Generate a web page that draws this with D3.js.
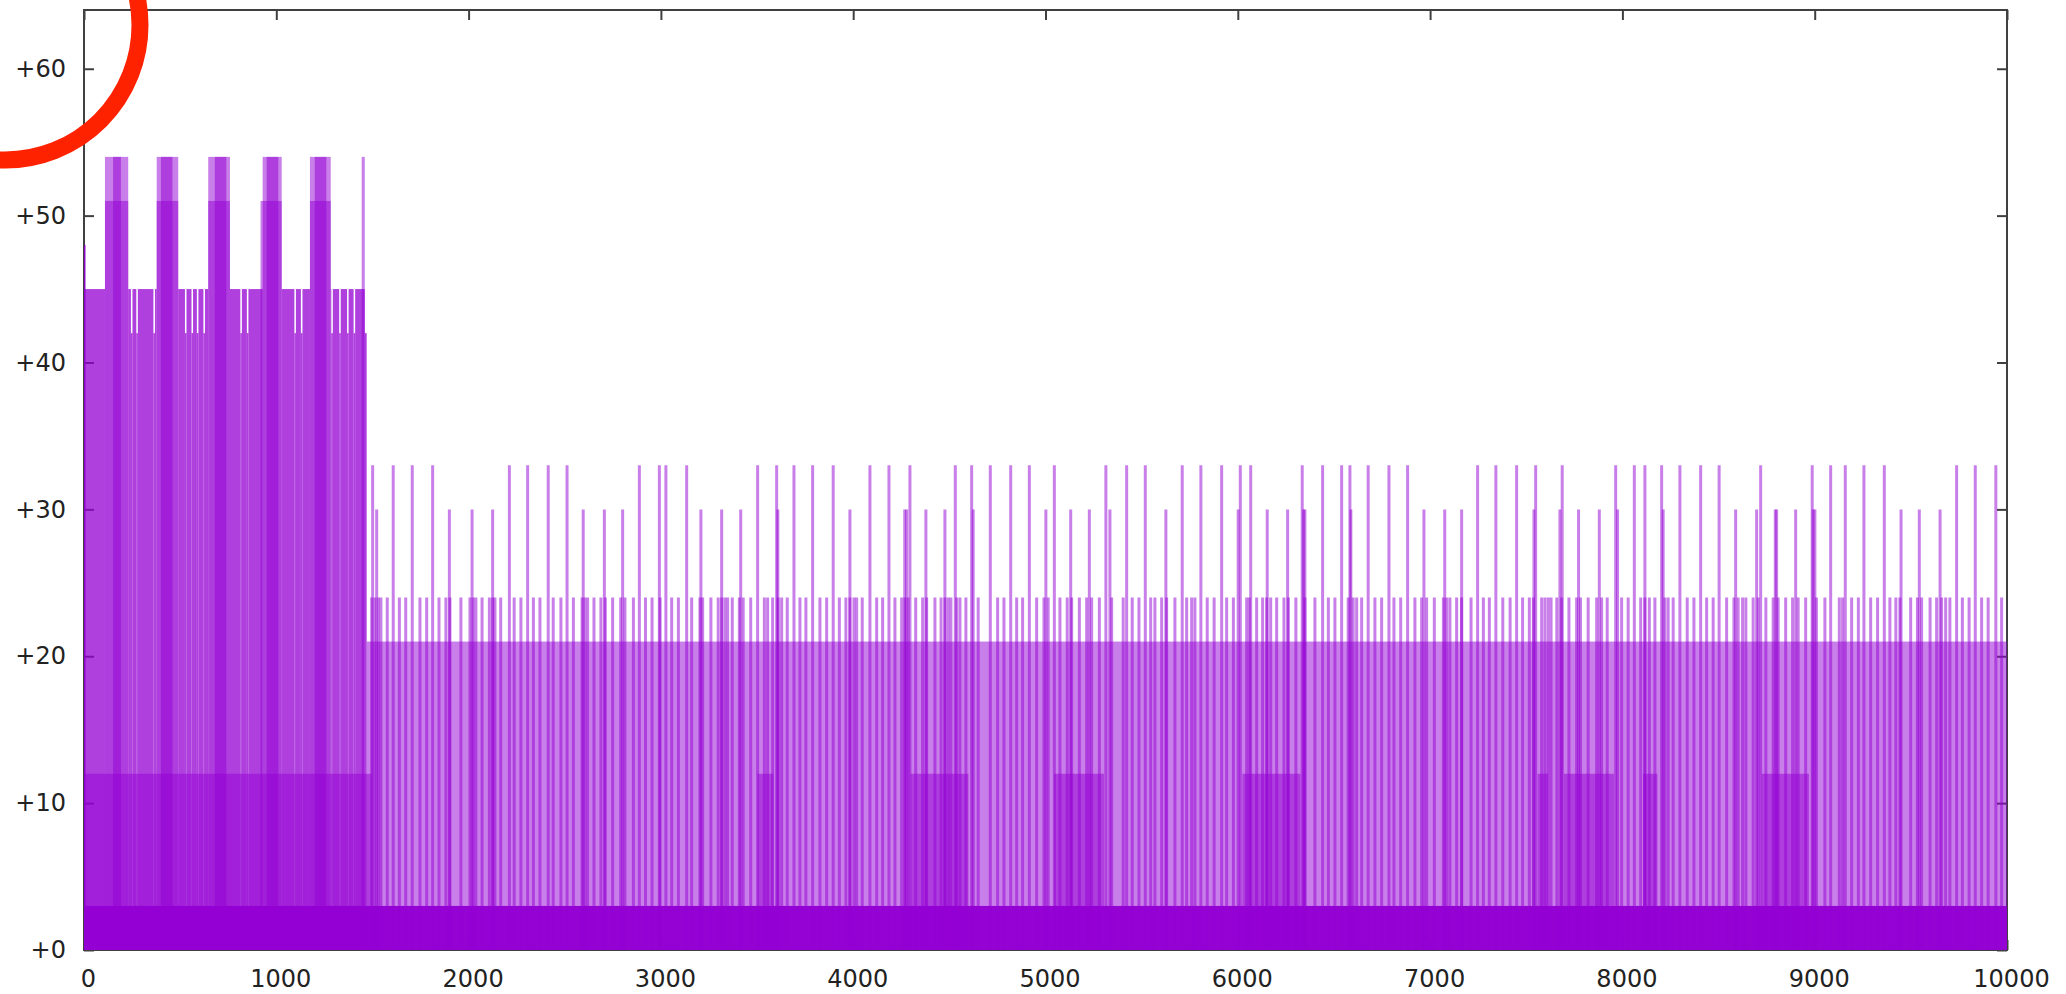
<!DOCTYPE html>
<html>
<head>
<meta charset="utf-8">
<script src="https://cdn.jsdelivr.net/npm/d3@7"></script>
<style>
  body { margin: 0; background: #fff; }
  text { font-family: "DejaVu Sans", sans-serif; }
</style>
</head>
<body>
<svg id="chart"></svg>
<script>
const W = 2066, H = 994;
const margin = { top: 10, right: 59, bottom: 44, left: 84 },
      width = W - margin.left - margin.right,
      height = H - margin.top - margin.bottom;

const xTicks = [0, 1000, 2000, 3000, 4000, 5000, 6000, 7000, 8000, 9000, 10000];
const yTicks = [0, 10, 20, 30, 40, 50, 60];

// runs of neighbouring samples sharing one value: [xStart, xEnd, value, samples stacked]
const baseRuns = [[0, 10000, 3, 6]];
const earlyRuns = [
  [0, 1496, 12, 1],
  // +45 level between the high blocks (two samples deep)
  [0, 109, 45, 2], [230, 244, 45, 2], [252, 272, 45, 2], [280, 361, 45, 2], [369, 378, 45, 2],
  [490, 525, 45, 2], [533, 559, 45, 2], [567, 587, 45, 2], [595, 621, 45, 2], [629, 646, 45, 2],
  [759, 813, 45, 2], [821, 847, 45, 2], [855, 929, 45, 2],
  [1028, 1094, 45, 2], [1102, 1128, 45, 2], [1136, 1175, 45, 2],
  [1283, 1286, 45, 2], [1294, 1327, 45, 2], [1335, 1368, 45, 2], [1376, 1402, 45, 2], [1410, 1460, 45, 2],
  // +42 where the +45 level drops out
  [244, 252, 42, 2], [272, 280, 42, 2], [361, 369, 42, 2], [525, 533, 42, 2], [559, 567, 42, 2],
  [587, 595, 42, 2], [621, 629, 42, 2], [813, 821, 42, 2], [847, 855, 42, 2], [1094, 1102, 42, 2],
  [1128, 1136, 42, 2], [1286, 1294, 42, 2], [1327, 1335, 42, 2], [1368, 1376, 42, 2], [1402, 1410, 42, 2],
  [1460, 1470, 42, 2],
  // high blocks
  [109, 230, 54, 1], [378, 490, 54, 1], [646, 759, 54, 1], [929, 1028, 54, 1], [1175, 1283, 54, 1],
  [109, 230, 51, 1], [378, 490, 51, 1], [646, 759, 51, 1], [918, 1028, 51, 1], [1175, 1283, 51, 1],
  [151, 192, 54, 1], [400, 460, 54, 1], [680, 740, 54, 1], [950, 1010, 54, 1], [1200, 1260, 54, 1],
  [1444, 1460, 54, 1],
  [0, 8, 48, 3]
];
const lateRuns = [
  [1470, 10000, 21, 1],
  [3502, 3585, 12, 1], [4298, 4599, 12, 1], [5044, 5304, 12, 1], [6024, 6326, 12, 1],
  [7559, 7614, 12, 1], [7696, 7956, 12, 1], [8107, 8182, 12, 1], [8724, 8970, 12, 1]
];

// single impulses after x = 1470
const spikes33 = [1501, 1608, 1707, 1813, 2212, 2307, 2414, 2512, 2888, 2992, 3026, 3134, 3503, 3602,
  3692, 3789, 3896, 4087, 4186, 4295, 4531, 4616, 4713, 4819, 4916, 5046, 5314, 5422, 5519, 5711,
  5808, 5916, 6013, 6067, 6335, 6441, 6540, 6583, 6678, 6786, 6883, 7247, 7342, 7450, 7549, 7687,
  7965, 8062, 8117, 8204, 8299, 8407, 8503, 8719, 8987, 9083, 9159, 9256, 9362, 9738, 9835, 9942];
const spikes30 = [1522, 1900, 2018, 2125, 2596, 2706, 2801, 3208, 3316, 3415, 3608, 3983, 4268, 4278,
  4378, 4477, 4624, 5002, 5131, 5228, 5335, 5626, 6002, 6153, 6259, 6342, 6349, 6588, 6968, 7076,
  7164, 7540, 7675, 7772, 7880, 7975, 8212, 8589, 8698, 8795, 8802, 8901, 8992, 9001, 9449, 9544, 9652];
const spikes24 = [1496, 1513, 1531, 1544, 1577, 1640, 1673, 1747, 1782, 1846, 1882, 1903, 1960, 2007,
  2024, 2038, 2070, 2108, 2125, 2137, 2167, 2237, 2272, 2337, 2371, 2440, 2480, 2545, 2590, 2605,
  2619, 2652, 2688, 2711, 2749, 2791, 2813, 2857, 2920, 2954, 2996, 3056, 3091, 3160, 3203, 3217,
  3260, 3298, 3316, 3333, 3347, 3371, 3408, 3428, 3467, 3538, 3555, 3581, 3610,
  3628, 3657, 3723, 3754, 3827, 3862, 3928, 3962, 3983, 4004, 4018, 4047, 4122, 4153, 4217, 4252,
  4269, 4286, 4325, 4361, 4382, 4425, 4457, 4477, 4494, 4508, 4538, 4555, 4586, 4650, 4751, 4784,
  4850, 4881, 4954, 4992, 5014, 5075, 5113, 5136, 5176, 5214, 5240, 5280, 5344, 5404, 5451, 5486,
  5547, 5569, 5604, 5630, 5673, 5734,
  5760, 5777, 5841, 5877, 5942, 5977, 6046, 6060, 6098, 6129, 6150, 6171, 6202, 6240, 6263, 6302,
  6349, 6401, 6471, 6505, 6574, 6600, 6618, 6644, 6713, 6748, 6812, 6847, 6921, 6956, 6982, 7022,
  7069, 7086, 7103, 7138, 7164, 7213, 7277, 7308, 7378, 7416, 7481, 7516, 7537, 7580, 7597, 7614,
  7629, 7659, 7684, 7722, 7762, 7782, 7822, 7866,
  7892, 7921, 7996, 8030, 8095, 8117, 8140, 8169, 8221, 8238, 8264, 8337, 8372, 8438, 8472, 8542,
  8580, 8602, 8625, 8642, 8680, 8706, 8746, 8784, 8810, 8849, 8885, 8914, 8953, 9009, 9053, 9128,
  9145, 9192, 9227, 9291, 9327, 9391, 9422, 9443, 9499, 9534, 9556, 9600, 9634, 9660, 9681, 9703,
  9768, 9803, 9868, 9902, 9972];

const violet = "#9400d3";

const svg = d3.select("#chart")
  .attr("width", W)
  .attr("height", H)
  .append("g")
  .attr("transform", `translate(${margin.left},${margin.top})`);

const x = d3.scaleLinear().domain([0, 10000]).range([0, width]);
const y = d3.scaleLinear().domain([0, 64]).range([height, 0]);

// frame and inward ticks first, the marks are drawn over them
const axisStyle = g => {
  g.select(".domain").remove();
  g.selectAll(".tick line").attr("stroke", "#404040").attr("stroke-width", 2);
  g.selectAll("text").attr("fill", "#222").style("font-size", "24px");
};

svg.append("g")
  .attr("transform", `translate(0,${height})`)
  .call(d3.axisBottom(x).tickValues(xTicks).tickSize(-10).tickPadding(20).tickFormat(d3.format("d")))
  .call(axisStyle)
  .selectAll("text").attr("dx", 4);

svg.append("g")
  .call(d3.axisTop(x).tickValues(xTicks).tickSize(-10).tickFormat(""))
  .call(axisStyle);

svg.append("g")
  .call(d3.axisLeft(y).tickValues(yTicks).tickSize(-10).tickPadding(18).tickFormat(d => "+" + d))
  .call(axisStyle);

svg.append("g")
  .attr("transform", `translate(${width},0)`)
  .call(d3.axisRight(y).tickValues(yTicks).tickSize(-10).tickFormat(""))
  .call(axisStyle);

svg.append("rect")
  .attr("width", width)
  .attr("height", height)
  .attr("fill", "none")
  .attr("stroke", "#404040")
  .attr("stroke-width", 2);

const runs = baseRuns.concat(earlyRuns, lateRuns);

svg.append("g")
  .selectAll("rect")
  .data(runs)
  .join("rect")
  .attr("x", d => x(d[0]))
  .attr("width", d => x(d[1]) - x(d[0]))
  .attr("y", d => y(d[2]))
  .attr("height", d => y(0) - y(d[2]))
  .attr("fill", violet)
  .attr("fill-opacity", d => 1 - Math.pow(0.5, d[3]));

const impulses = [
  ...spikes24.map(v => [v, 24]),
  ...spikes30.map(v => [v, 30]),
  ...spikes33.map(v => [v, 33])
];

svg.append("g")
  .selectAll("line")
  .data(impulses)
  .join("line")
  .attr("x1", d => x(d[0]))
  .attr("x2", d => x(d[0]))
  .attr("y1", y(0))
  .attr("y2", d => y(d[1]))
  .attr("stroke", violet)
  .attr("stroke-opacity", 0.5)
  .attr("stroke-width", 3);

// red ring drawn over the top-left corner
d3.select("#chart").append("circle")
  .attr("cx", 5)
  .attr("cy", 25)
  .attr("r", 135)
  .attr("fill", "none")
  .attr("stroke", "#ff2200")
  .attr("stroke-width", 17);
</script>
</body>
</html>
